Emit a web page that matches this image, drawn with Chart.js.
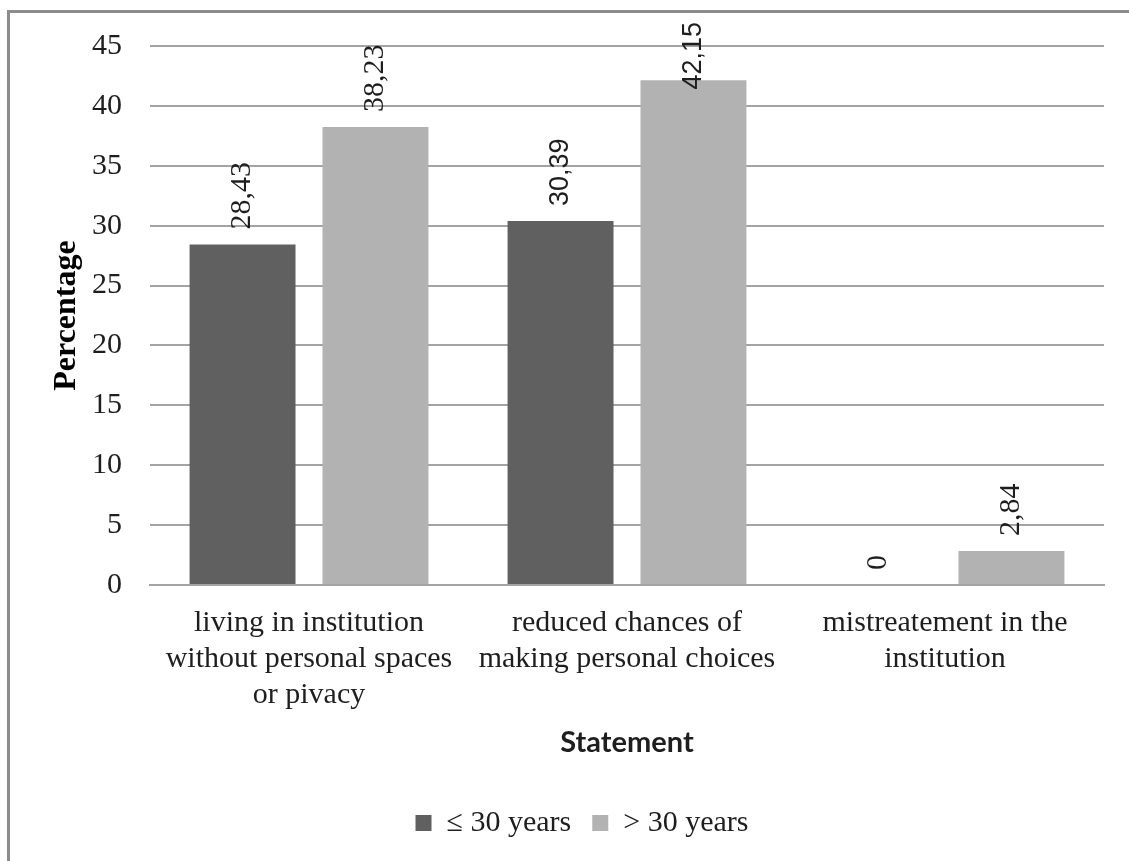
<!DOCTYPE html>
<html>
<head>
<meta charset="utf-8">
<script src="https://cdn.jsdelivr.net/npm/chart.js@4.4.1/dist/chart.umd.min.js"></script>
<style>
  html, body { margin: 0; padding: 0; background: #ffffff; }
  #wrap { position: relative; width: 1129px; height: 861px; }
</style>
</head>
<body>
<div id="wrap"><canvas id="chart" width="1129" height="861"></canvas></div>
<script>
// Statements (multi-line category labels)
const categories = [
  ['living in institution', 'without personal spaces', 'or pivacy'],
  ['reduced chances of', 'making personal choices'],
  ['mistreatement in the', 'institution']
];
// Percentages per age group
const upTo30Values = [28.43, 30.39, 0];
const over30Values = [38.23, 42.15, 2.84];
const seriesNames = ['\u2264 30 years', '> 30 years'];
// Y axis tick values
const yTickValues = [0, 5, 10, 15, 20, 25, 30, 35, 40, 45];

const SERIF = "'Liberation Serif', 'Times New Roman', serif";
const SANS = "'Liberation Sans', Arial, sans-serif";
const TEXT = '#1e1e1e';
const GRID = '#a3a3a3';

// Frame lines along the top and left edges of the figure
const framePlugin = {
  id: 'frame',
  beforeDraw(chart) {
    const ctx = chart.ctx;
    ctx.save();
    ctx.fillStyle = '#ffffff';
    ctx.fillRect(0, 0, chart.width, chart.height);
    ctx.strokeStyle = '#8c8c8c';
    ctx.lineWidth = 3;
    ctx.beginPath();
    ctx.moveTo(7, 11.5);
    ctx.lineTo(chart.width, 11.5);
    ctx.moveTo(8.5, 10);
    ctx.lineTo(8.5, chart.height);
    ctx.stroke();
    ctx.restore();
  }
};

// Vertical value labels above each bar (decimal comma)
const sansLabelCategories = [1];
const valueLabelPlugin = {
  id: 'valueLabels',
  afterDatasetsDraw(chart) {
    const ctx = chart.ctx;
    ctx.save();
    chart.data.datasets.forEach((ds, di) => {
      const meta = chart.getDatasetMeta(di);
      meta.data.forEach((bar, i) => {
        const v = ds.data[i];
        const text = String(v).replace('.', ',');
        const sans = sansLabelCategories.includes(i);
        ctx.font = sans ? '27px ' + SANS : '30px ' + SERIF;
        const w = ctx.measureText(text).width;
        let start = bar.y - 15;
        if (start - w < 22) start = 22 + w;
        ctx.translate(bar.x, start);
        ctx.rotate(-Math.PI / 2);
        ctx.fillStyle = TEXT;
        ctx.textAlign = 'left';
        ctx.textBaseline = 'middle';
        ctx.fillText(text, 0, 0);
        ctx.setTransform(1, 0, 0, 1, 0, 0);
      });
    });
    ctx.restore();
  }
};

new Chart(document.getElementById('chart'), {
  type: 'bar',
  data: {
    labels: categories,
    datasets: [
      { label: seriesNames[0], data: upTo30Values, backgroundColor: '#606060', borderWidth: 0,
        categoryPercentage: 0.836, barPercentage: 0.797 },
      { label: seriesNames[1], data: over30Values, backgroundColor: '#b2b2b2', borderWidth: 0,
        categoryPercentage: 0.836, barPercentage: 0.797 }
    ]
  },
  options: {
    responsive: false,
    animation: false,
    devicePixelRatio: 1,
    layout: { padding: { left: 60, right: 25, top: 45, bottom: 13 } },
    scales: {
      x: {
        grid: { display: false, drawTicks: false },
        border: { display: true, color: GRID, width: 2 },
        ticks: { color: TEXT, padding: 20, maxRotation: 0, autoSkip: false,
          font: { family: SERIF, size: 30, lineHeight: 1.2 } },
        title: { display: true, text: 'Statement', color: TEXT,
          font: { family: "Lato, 'Open Sans', sans-serif", size: 29, weight: 'bold', lineHeight: 1.2 },
          padding: { top: 0, bottom: 27 } },
        afterFit(scale) { scale.height = 202; }
      },
      y: {
        min: 0,
        max: 45,
        grid: { color: GRID, lineWidth: 2, drawTicks: false },
        border: { display: false },
        afterBuildTicks(scale) { scale.ticks = yTickValues.map(v => ({ value: v })); },
        ticks: { color: TEXT, padding: 28, font: { family: SERIF, size: 30 } },
        title: { display: true, text: 'Percentage', color: '#000',
          font: { family: SERIF, size: 32, weight: 'bold', lineHeight: 1 },
          padding: { top: -9, bottom: 0 } },
        afterFit(scale) { scale.width = 90; }
      }
    },
    plugins: {
      legend: {
        position: 'bottom',
        labels: { color: TEXT, boxWidth: 16, boxHeight: 16, padding: 21,
          font: { family: SERIF, size: 30 } }
      },
      tooltip: { enabled: false }
    }
  },
  plugins: [framePlugin, valueLabelPlugin]
});
</script>
</body>
</html>
